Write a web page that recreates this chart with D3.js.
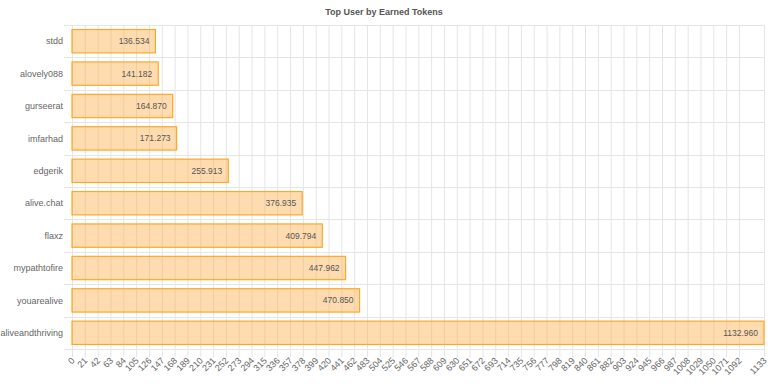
<!DOCTYPE html>
<html>
<head>
<meta charset="utf-8">
<script src="https://cdn.jsdelivr.net/npm/d3@7"></script>
<style>
  body { margin: 0; background: #fff; }
  text { font-family: "Liberation Sans", Arial, sans-serif; }
</style>
</head>
<body>
<script>
// 用户与获得的代币数
let users = ['stdd', 'alovely088', 'gurseerat', 'imfarhad', 'edgerik', 'alive.chat', 'flaxz', 'mypathtofire', 'youarealive', 'aliveandthriving']
let tokens = [136.534, 141.182, 164.870, 171.273, 255.913, 376.935, 409.794, 447.962, 470.850, 1132.960]
let xTicks = [0, 21, 42, 63, 84, 105, 126, 147, 168, 189, 210, 231, 252, 273, 294, 315, 336, 357, 378, 399,
  420, 441, 462, 483, 504, 525, 546, 567, 588, 609, 630, 651, 672, 693, 714, 735, 756, 777, 798, 819,
  840, 861, 882, 903, 924, 945, 966, 987, 1008, 1029, 1050, 1071, 1092, 1133]
let xMax = 1133

let width = 768
let height = 384
let margin = { top: 25, right: 4, bottom: 35, left: 72 }

let svg = d3.select('body').append('svg')
  .attr('width', width)
  .attr('height', height)

// 标题
svg.append('text')
  .attr('x', width / 2)
  .attr('y', 15)
  .attr('text-anchor', 'middle')
  .attr('font-size', '9px')
  .attr('font-weight', 'bold')
  .attr('fill', '#555')
  .text('Top User by Earned Tokens')

let xScale = d3.scaleLinear()
  .domain([0, xMax])
  .range([margin.left, width - margin.right])

let yScale = d3.scaleBand()
  .domain(users)
  .range([margin.top, height - margin.bottom])

let plotBottom = height - margin.bottom
let grid = '#e5e5e5'

// 竖直网格线（带刻度）
svg.append('g').selectAll('line')
  .data(xTicks)
  .enter().append('line')
  .attr('x1', d => xScale(d) + 0.5)
  .attr('x2', d => xScale(d) + 0.5)
  .attr('y1', margin.top)
  .attr('y2', plotBottom + 8)
  .attr('stroke', grid)

// 水平网格线，在类别边界上
let bounds = users.map(d => yScale(d)).concat([plotBottom])
svg.append('g').selectAll('line')
  .data(bounds)
  .enter().append('line')
  .attr('x1', margin.left - 8)
  .attr('x2', width - margin.right)
  .attr('y1', d => Math.round(d) + 0.5)
  .attr('y2', d => Math.round(d) + 0.5)
  .attr('stroke', grid)

// 柱子
let barH = yScale.bandwidth() * 0.72
let bar = svg.append('g').selectAll('g')
  .data(users)
  .enter().append('g')

bar.append('rect')
  .attr('x', xScale(0))
  .attr('y', d => yScale(d) + (yScale.bandwidth() - barH) / 2)
  .attr('width', (d, i) => xScale(tokens[i]) - xScale(0))
  .attr('height', barH)
  .attr('fill', 'rgba(255, 178, 80, 0.45)')
  .attr('stroke', 'rgb(255, 167, 38)')
  .attr('stroke-width', 1.2)

let fmt = d3.format('.3f')
bar.append('text')
  .attr('x', (d, i) => xScale(tokens[i]) - 6)
  .attr('y', d => yScale(d) + yScale.bandwidth() / 2)
  .attr('dy', '0.35em')
  .attr('text-anchor', 'end')
  .attr('font-size', '8.5px')
  .attr('fill', '#555')
  .text((d, i) => fmt(tokens[i]))

// y 轴标签
svg.append('g').selectAll('text')
  .data(users)
  .enter().append('text')
  .attr('x', margin.left - 9)
  .attr('y', d => yScale(d) + yScale.bandwidth() / 2)
  .attr('dy', '0.35em')
  .attr('text-anchor', 'end')
  .attr('font-size', '9px')
  .attr('fill', '#666')
  .text(d => d)

// x 轴标签，旋转45度
svg.append('g').selectAll('text')
  .data(xTicks)
  .enter().append('text')
  .attr('transform', d => 'translate(' + (xScale(d) + 1) + ',' + (plotBottom + 10) + ') rotate(-45)')
  .attr('dy', '0.35em')
  .attr('text-anchor', 'end')
  .attr('font-size', '9px')
  .attr('fill', '#666')
  .text(d => d)
</script>
</body>
</html>
